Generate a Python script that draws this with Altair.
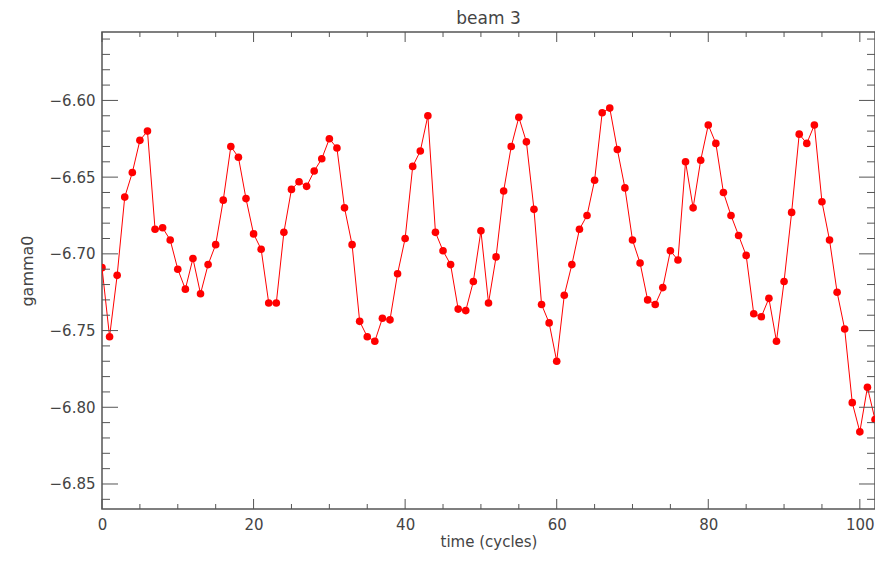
import altair as alt
import pandas as pd

time = list(range(103))
gamma = [
    -6.709, -6.754, -6.714, -6.663, -6.647, -6.626, -6.620, -6.684, -6.683, -6.691,
    -6.710, -6.723, -6.703, -6.726, -6.707, -6.694, -6.665, -6.630, -6.637, -6.664,
    -6.687, -6.697, -6.732, -6.732, -6.686, -6.658, -6.653, -6.656, -6.646, -6.638,
    -6.625, -6.631, -6.670, -6.694, -6.744, -6.754, -6.757, -6.742, -6.743, -6.713,
    -6.690, -6.643, -6.633, -6.610, -6.686, -6.698, -6.707, -6.736, -6.737, -6.718,
    -6.685, -6.732, -6.702, -6.659, -6.630, -6.611, -6.627, -6.671, -6.733, -6.745,
    -6.770, -6.727, -6.707, -6.684, -6.675, -6.652, -6.608, -6.605, -6.632, -6.657,
    -6.691, -6.706, -6.730, -6.733, -6.722, -6.698, -6.704, -6.640, -6.670, -6.639,
    -6.616, -6.628, -6.660, -6.675, -6.688, -6.701, -6.739, -6.741, -6.729, -6.757,
    -6.718, -6.673, -6.622, -6.628, -6.616, -6.666, -6.691, -6.725, -6.749, -6.797,
    -6.816, -6.787, -6.808,
]
x_major = [0, 20, 40, 60, 80, 100]
x_minor = [5, 10, 15, 25, 30, 35, 45, 50, 55, 65, 70, 75, 85, 90, 95]
y_major = [-6.85, -6.80, -6.75, -6.70, -6.65, -6.60]
y_minor = [-6.86, -6.84, -6.83, -6.82, -6.81, -6.79, -6.78, -6.77, -6.76,
           -6.74, -6.73, -6.72, -6.71, -6.69, -6.68, -6.67, -6.66,
           -6.64, -6.63, -6.62, -6.61, -6.59, -6.58, -6.57, -6.56]

W, H = 773, 477
FONT = "DejaVu Sans"
TXT = "#444444"
AX = "#555555"

df = pd.DataFrame({"time": time, "gamma": gamma})
xscale = alt.Scale(domain=[0, 102], nice=False, zero=False)
yscale = alt.Scale(domain=[-6.8663, -6.5554], nice=False, zero=False)

xaxis = alt.Axis(title="time (cycles)", values=x_major, format="d", ticks=False,
                 domain=False, grid=False, labelFlush=False, labelPadding=8,
                 labelFont=FONT, labelFontSize=15, labelColor=TXT,
                 titleFont=FONT, titleFontSize=15, titleColor=TXT,
                 titleFontWeight="normal", titlePadding=2)
yaxis = alt.Axis(title="gamma0", values=y_major, format=".2f", ticks=False,
                 domain=False, grid=False, labelPadding=7,
                 labelFont=FONT, labelFontSize=15, labelColor=TXT,
                 titleFont=FONT, titleFontSize=16, titleColor=TXT,
                 titleFontWeight="normal", titlePadding=14)

line = alt.Chart(df).mark_line(color="#ff0000", strokeWidth=1, clip=True).encode(
    x=alt.X("time:Q", scale=xscale, axis=xaxis),
    y=alt.Y("gamma:Q", scale=yscale, axis=yaxis),
)
points = alt.Chart(df).mark_circle(color="#ff0000", size=58, opacity=1, clip=True).encode(
    x=alt.X("time:Q", scale=xscale, axis=xaxis),
    y=alt.Y("gamma:Q", scale=yscale, axis=yaxis),
)

def xticks(vals, length):
    d = pd.DataFrame({"v": vals})
    bottom = alt.Chart(d).mark_rule(color=AX, strokeWidth=1).encode(
        x=alt.X("v:Q", scale=xscale, axis=xaxis),
        y=alt.value(H), y2=alt.value(H - length))
    top = alt.Chart(d).mark_rule(color=AX, strokeWidth=1).encode(
        x=alt.X("v:Q", scale=xscale, axis=xaxis),
        y=alt.value(0), y2=alt.value(length))
    return [bottom, top]

def yticks(vals, length):
    d = pd.DataFrame({"v": vals})
    left = alt.Chart(d).mark_rule(color=AX, strokeWidth=1).encode(
        y=alt.Y("v:Q", scale=yscale, axis=yaxis),
        x=alt.value(0), x2=alt.value(length))
    right = alt.Chart(d).mark_rule(color=AX, strokeWidth=1).encode(
        y=alt.Y("v:Q", scale=yscale, axis=yaxis),
        x=alt.value(W), x2=alt.value(W - length))
    return [left, right]

tick_layers = xticks(x_major, 10) + xticks(x_minor, 5) + yticks(y_major, 16) + yticks(y_minor, 8)

chart = alt.layer(line, points, *tick_layers).properties(
    width=W, height=H,
    title=alt.TitleParams("beam 3", font=FONT, fontSize=17, color=TXT,
                          fontWeight="normal", offset=4),
    autosize=alt.AutoSizeParams(type="none"),
    padding={"left": 94, "top": 24, "right": 0, "bottom": 44},
).configure_view(stroke=AX, strokeWidth=1.5)

chart.save("out.html", embed_options={"renderer": "svg", "actions": False})
